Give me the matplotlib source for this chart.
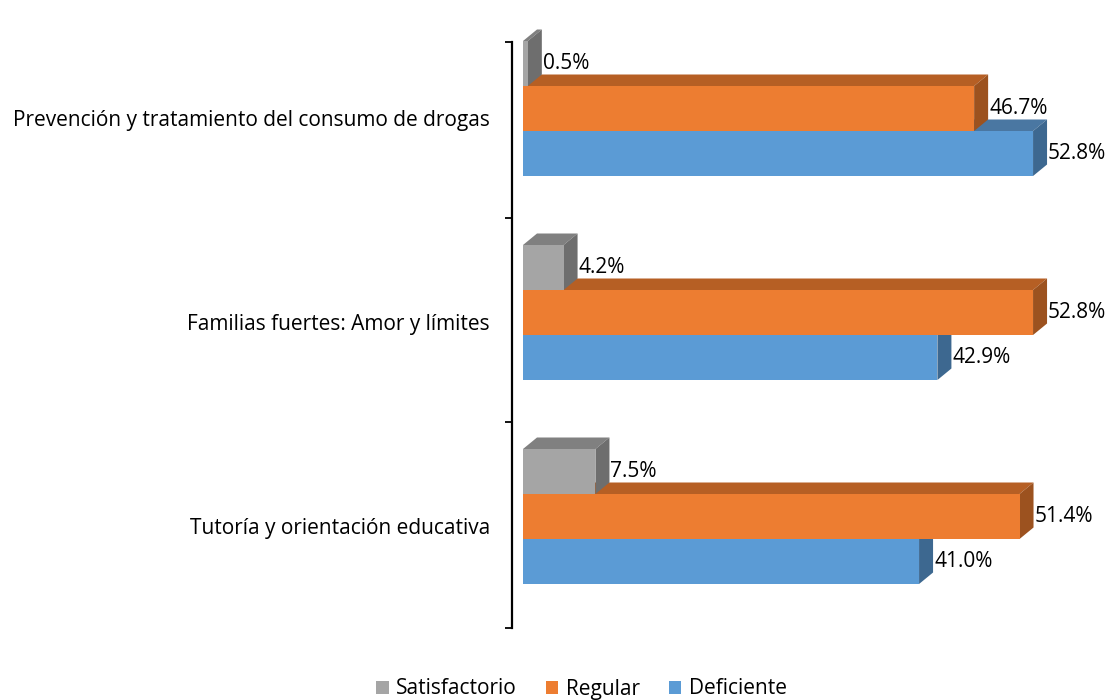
import matplotlib
matplotlib.use("Agg")
import matplotlib.pyplot as plt
from matplotlib.patches import Polygon, Patch

categories = ["Prevención y tratamiento del consumo de drogas",
              "Familias fuertes: Amor y límites",
              "Tutoría y orientación educativa"]
series = ["Satisfactorio", "Regular", "Deficiente"]
satisfactorio = [0.5, 4.2, 7.5]
regular = [46.7, 52.8, 51.4]
deficiente = [52.8, 42.9, 41.0]

# colours: front, top, side
colors = {
    "Satisfactorio": ("#A5A5A5", "#808080", "#6E6E6E"),
    "Regular": ("#ED7D31", "#B65F24", "#9C521F"),
    "Deficiente": ("#5B9BD5", "#4A77A2", "#3D6890"),
}

FONT = "Open Sans"
FS = 15

W, H, DPI = 1111, 700, 100
fig = plt.figure(figsize=(W / DPI, H / DPI), dpi=DPI)
ax = fig.add_axes([0, 0, 1, 1])

# layout in pixel terms -> data units
X0PX = 523.0          # pixel where value 0 sits
SX = 9.66             # pixels per percent
C0PX = 108.5          # pixel y of first group center
SY = 204.0            # pixels per category
ax.set_xlim(-X0PX / SX, (W - X0PX) / SX)
ax.set_ylim((H - C0PX) / SY, -C0PX / SY)

bh = 45.0 / SY
dx = 14.0 / SX
dy = -11.5 / SY


def bar3d(v, yc, key):
    front, top, side = colors[key]
    yt, yb = yc - bh / 2, yc + bh / 2
    ax.add_patch(Polygon([(0, yt), (v, yt), (v + dx, yt + dy), (dx, yt + dy)],
                         closed=True, facecolor=top, edgecolor="none", zorder=2))
    ax.add_patch(Polygon([(v, yt), (v + dx, yt + dy), (v + dx, yb + dy), (v, yb)],
                         closed=True, facecolor=side, edgecolor="none", zorder=2))
    ax.add_patch(Polygon([(0, yt), (v, yt), (v, yb), (0, yb)],
                         closed=True, facecolor=front, edgecolor="none", zorder=2))
    ax.text(v + dx + 1.0 / SX, yc, f"{v:.1f}%", ha="left", va="center",
            fontsize=FS, family=FONT, color="black", zorder=5)


vals = {"Satisfactorio": satisfactorio, "Regular": regular, "Deficiente": deficiente}
offsets = {"Satisfactorio": -bh, "Regular": 0.0, "Deficiente": bh}
for i in range(len(categories)):
    for key in ["Deficiente", "Regular", "Satisfactorio"]:
        bar3d(vals[key][i], i + offsets[key], key)

# axis
for s in ["top", "right", "bottom"]:
    ax.spines[s].set_visible(False)
ax.xaxis.set_visible(False)
ax.spines["left"].set_position(("data", -11.0 / SX))
ytop = (42 - C0PX) / SY
ybot = (628 - C0PX) / SY
ax.spines["left"].set_bounds(ytop, ybot)
ax.spines["left"].set_linewidth(1.6)
ax.set_yticks([ytop, (218 - C0PX) / SY, (422 - C0PX) / SY, ybot])
ax.set_yticklabels([])
ax.tick_params(axis="y", which="major", direction="out", length=5, width=1.3)
label_pos = [i + 9.5 / SY for i in range(len(categories))]
ax.set_yticks(label_pos, minor=True)
ax.set_yticklabels(categories, minor=True, fontsize=FS, family=FONT)
ax.tick_params(axis="y", which="minor", length=0, pad=16)
ax.patch.set_alpha(0)

handles = [Patch(facecolor=colors[k][0], edgecolor="none", label=k) for k in series]
fig.legend(handles=handles, loc="center", bbox_to_anchor=(581.5 / W, 1 - 689 / H),
           ncol=3, frameon=False, prop={"family": FONT, "size": FS},
           handlelength=0.6, handleheight=0.6, handletextpad=0.35, columnspacing=1.4,
           borderaxespad=0, borderpad=0)

fig.savefig("out.png", dpi=DPI)
